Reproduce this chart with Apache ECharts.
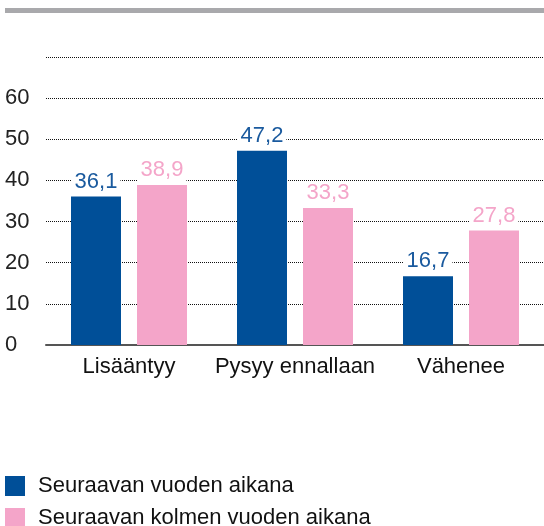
<!DOCTYPE html>
<html>
<head>
<meta charset="utf-8">
<script src="https://cdn.jsdelivr.net/npm/echarts@6/dist/echarts.min.js"></script>
<style>
  html, body { margin: 0; padding: 0; background: #fff; }
  #chart { width: 544px; height: 526px; }
</style>
</head>
<body>
<div id="chart"></div>
<script>
// data
const categories = ['Lisääntyy', 'Pysyy ennallaan', 'Vähenee']
const seriesNames = ['Seuraavan vuoden aikana', 'Seuraavan kolmen vuoden aikana']
const nextYear = [36.1, 47.2, 16.7]
const nextThreeYears = [38.9, 33.3, 27.8]

const blue = '#004f98'
const pink = '#f4a5c9'
const font = 'Liberation Sans, Arial, sans-serif'

const chart = echarts.init(document.getElementById('chart'))

// data label with a decimal comma, white box hides the dotted lines
const labelOf = color => ({
  show: true,
  position: 'top',
  distance: 4,
  color: color,
  fontSize: 22,
  fontFamily: font,
  backgroundColor: '#fff',
  padding: [0, 3],
  formatter: p => String(p.value).replace('.', ',')
})

// one legend per row
const legendOf = (name, top) => ({
  orient: 'vertical',
  left: 0,
  top: top,
  itemWidth: 20,
  itemHeight: 20,
  icon: 'rect',
  textStyle: { fontSize: 22, color: '#111', fontFamily: font, padding: [0, 0, 0, 8] },
  data: [name]
})

const option = {
  animation: false,
  graphic: [
    {
      type: 'rect',
      shape: { x: 5, y: 8, width: 539, height: 5 },
      style: { fill: '#a9a9ac' }
    }
  ],
  grid: {
    left: 46,
    right: 0,
    top: 57,
    bottom: 181
  },
  legend: [legendOf(seriesNames[0], 470), legendOf(seriesNames[1], 502)],
  xAxis: {
    type: 'category',
    data: categories,
    axisLine: { lineStyle: { color: '#555', width: 2 } },
    axisTick: { show: false },
    axisLabel: { interval: 0, fontSize: 22, color: '#111', fontFamily: font, margin: 11 }
  },
  yAxis: {
    type: 'value',
    min: 0,
    max: 70,
    interval: 10,
    axisLine: { show: false },
    axisTick: { show: false },
    axisLabel: {
      fontSize: 22,
      color: '#222',
      fontFamily: font,
      align: 'left',
      margin: 41,
      formatter: v => (v === 70 ? '' : v)
    },
    splitLine: { lineStyle: { color: '#111', type: [1, 1], width: 1 } }
  },
  series: [
    {
      name: seriesNames[0],
      type: 'bar',
      data: nextYear,
      barWidth: 50,
      barGap: '32%',
      itemStyle: { color: blue },
      label: labelOf('#1a5a9e')
    },
    {
      name: seriesNames[1],
      type: 'bar',
      data: nextThreeYears,
      barWidth: 50,
      itemStyle: { color: pink },
      label: labelOf(pink)
    }
  ]
}

chart.setOption(option)
</script>
</body>
</html>
